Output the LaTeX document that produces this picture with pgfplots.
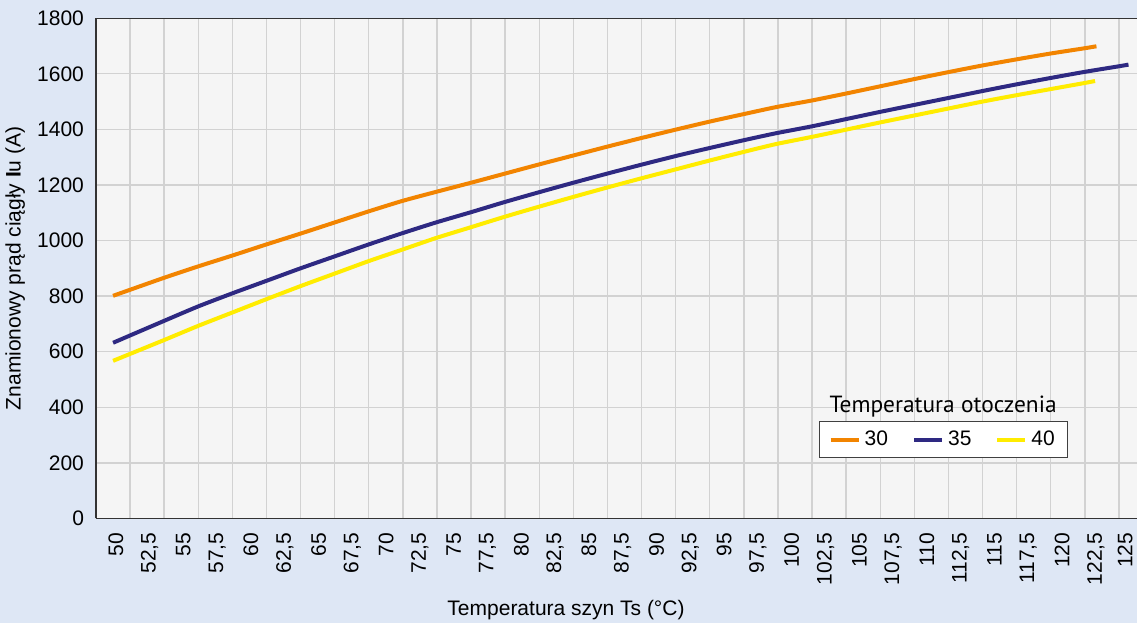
\documentclass[border=0pt]{standalone}
\usepackage{pgfplots}
\pgfplotsset{compat=1.18}
\usepackage{fontspec}
\setmainfont{Liberation Sans}
\newfontfamily\titlefont{PT Sans}
\definecolor{bgblue}{RGB}{222,231,245}
\definecolor{plotbg}{RGB}{245,245,245}
\definecolor{gridgray}{RGB}{210,210,210}
\definecolor{c30}{RGB}{242,132,0}
\definecolor{c35}{RGB}{46,41,130}
\definecolor{c40}{RGB}{255,236,0}
\newcommand{\tickfont}{\fontsize{10.5}{12.6}\selectfont}

\pgfplotstableread{
x y
50 801
53.75 866
56.25 907
58.75 946
61.25 986
63.75 1025
66.25 1065
68.75 1105
71.25 1143
73.68 1175
76.25 1208
78.75 1241
81.25 1274
83.75 1306
86.25 1338
88.75 1369
91.25 1399
93.75 1428
96.25 1455
98.6 1480
101.25 1504
103.75 1529
106.25 1555
108.75 1581
111.25 1606
113.75 1630
116.25 1652
118.75 1673
121.25 1692
122.1 1699
}\tthirty

\pgfplotstableread{
x y
50 632
53.75 711
56.25 763
58.75 810
61.25 855
63.75 900
66.25 943
68.75 986
71.25 1027
73.68 1065
76.25 1102
78.75 1139
81.25 1174
83.75 1208
86.25 1241
88.75 1273
91.25 1304
93.75 1333
96.25 1361
98.6 1386
101.25 1411
103.75 1437
106.25 1463
108.75 1488
111.25 1513
113.75 1538
116.25 1562
118.75 1585
121.25 1607
123.75 1627
124.45 1633
}\tthirtyfive

\pgfplotstableread{
x y
50 567
53.75 642
56.25 693
58.75 741
61.25 789
63.75 836
66.25 881
68.75 926
71.25 968
73.68 1009
76.25 1048
78.75 1086
81.25 1122
83.75 1157
86.25 1191
88.75 1224
91.25 1256
93.75 1288
96.25 1319
98.6 1347
101.25 1373
103.75 1399
106.25 1425
108.75 1450
111.25 1475
113.75 1500
116.25 1523
118.75 1545
121.25 1567
122.0 1574
}\tforty

\begin{document}
\begin{tikzpicture}
\fill[bgblue] (0,0) rectangle (568.5pt,311.5pt);
\begin{axis}[
  at={(48pt,52.3pt)}, anchor=south west,
  scale only axis, width=523.4pt, height=250.1pt,
  xmin=48.75, xmax=125.5, ymin=0, ymax=1800,
  xtick={50.2,52.678,55.156,57.634,60.112,62.59,65.068,67.546,70.024,72.502,74.98,77.458,79.936,82.414,84.892,87.37,89.848,92.326,94.804,97.282,99.76,102.238,104.716,107.194,109.672,112.15,114.628,117.106,119.584,122.062,124.2},
  xticklabels={50,{52,5},55,{57,5},60,{62,5},65,{67,5},70,{72,5},75,{77,5},80,{82,5},85,{87,5},90,{92,5},95,{97,5},100,{102,5},105,{107,5},110,{112,5},115,{117,5},120,{122,5},125},
  minor xtick={51.25,53.75,56.25,58.75,61.25,63.75,66.25,68.75,71.25,73.75,76.25,78.75,81.25,83.75,86.25,88.75,91.25,93.75,96.25,98.75,101.25,103.75,106.25,108.75,111.25,113.75,116.25,118.75,121.25,123.75},
  ytick={0,200,400,600,800,1000,1200,1400,1600,1800},
  xminorgrids=true, ymajorgrids=true, xmajorgrids=false,
  major tick length=0pt, minor tick length=0pt,
  major grid style={gridgray, line width=0.7pt},
  minor grid style={gridgray, line width=0.7pt},
  axis background/.style={fill=plotbg},
  axis x line*=box, axis y line*=left,
  axis line style={draw=black!80, line width=0.6pt},
  x tick label style={rotate=90, anchor=east, font=\tickfont},
  y tick label style={font=\tickfont},
  xticklabel shift=3.6pt, yticklabel shift=2.5pt,
  /pgf/number format/use comma,
  /pgf/number format/1000 sep={},
  /pgf/number format/assume math mode=true,
  xlabel={Temperatura szyn Ts (°C)},
  xlabel style={at={(axis description cs:0.449,-0.149)}, anchor=north, font=\tickfont},
  ylabel={Znamionowy prąd ciągły \textbf{I}u (A)},
  ylabel style={at={(axis description cs:-0.0611,0.5)}, anchor=south, font=\tickfont},
  legend style={at={(0.691,0.194)}, anchor=north west, draw=black!75, fill=white,
    font=\tickfont, inner xsep=4.5pt, inner ysep=2.6pt,
    /tikz/every even column/.append style={column sep=10pt}},
  legend columns=3,
  legend image code/.code={\draw[#1, line width=2pt] (0pt,0pt) -- (14pt,0pt);},
]
\addplot[c30, line width=2pt, smooth, tension=0.4] table {\tthirty};
\addlegendentry{30}
\addplot[c35, line width=2pt, smooth, tension=0.4] table {\tthirtyfive};
\addlegendentry{35}
\addplot[c40, line width=2pt, smooth, tension=0.4] table {\tforty};
\addlegendentry{40}
\node[anchor=base west, font=\titlefont\fontsize{11.7}{13.5}\selectfont, inner sep=0pt] at (rel axis cs:0.7005,0.2127) {Temperatura otoczenia};
\end{axis}
\pgfresetboundingbox
\useasboundingbox (0,0) rectangle (568.5pt,311.5pt);
\end{tikzpicture}
\end{document}
